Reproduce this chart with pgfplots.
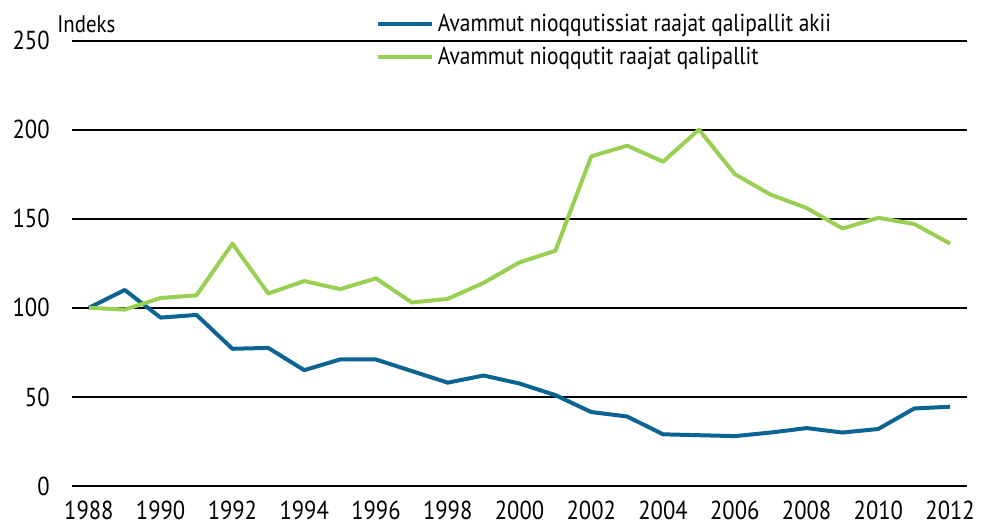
\documentclass[border=0pt]{standalone}
\usepackage{fontspec}
\setmainfont{PT Sans}[FakeStretch=0.87]
\usepackage{pgfplots}
\pgfplotsset{compat=1.18}
\definecolor{cblue}{RGB}{12,100,147}
\definecolor{cgreen}{RGB}{153,208,84}
\begin{document}
\fontsize{12bp}{14bp}\selectfont
\begin{tikzpicture}
\begin{axis}[
  scale only axis,
  width=447.5bp, height=222.75bp,
  xmin=1987.53, xmax=2012.47,
  ymin=0, ymax=250,
  xtick={1988,1990,...,2012},
  ytick={0,50,...,250},
  axis line style={draw=none},
  major tick length=0pt,
  ymajorgrids,
  grid style={black, line width=1bp},
  /pgf/number format/assume math mode=true,
  xticklabel style={/pgf/number format/1000 sep={}, yshift=-3.5bp},
  yticklabel style={xshift=-7bp},
  tick label style={font=\fontsize{13bp}{15bp}\selectfont},
  clip=false,
  legend cell align=left,
  legend style={at={(rel axis cs:0.339,1.07)}, anchor=north west, draw=none, fill=none,
    inner sep=0pt, row sep=2bp, font=\fontsize{12.3bp}{14.5bp}\selectfont},
  legend image code/.code={\draw[#1, line width=2bp] (0,0) -- (27bp,0);},
]
\addplot[cblue, line width=2bp, line join=round] coordinates {
(1988,100) (1989,110) (1990,94.5) (1991,96) (1992,77) (1993,77.5) (1994,65)
(1995,71) (1996,71) (1997,64.5) (1998,58) (1999,62) (2000,57.5) (2001,51)
(2002,41.5) (2003,39) (2004,29) (2005,28.5) (2006,28) (2007,30) (2008,32.5)
(2009,30) (2010,32) (2011,43.5) (2012,44.5)};
\addlegendentry{Avammut nioqqutissiat raajat qalipallit akii}
\addplot[cgreen, line width=2bp, line join=round] coordinates {
(1988,100) (1989,99) (1990,105.5) (1991,107) (1992,136) (1993,108) (1994,115)
(1995,110.5) (1996,116.5) (1997,103) (1998,105) (1999,114) (2000,125.5) (2001,132)
(2002,185) (2003,191) (2004,182) (2005,200) (2006,175) (2007,163.5) (2008,156)
(2009,144.5) (2010,150.5) (2011,147) (2012,136)};
\addlegendentry{Avammut nioqqutit raajat qalipallit}
\node[anchor=base west, inner sep=0pt] at ([xshift=-7.5bp, yshift=4.25bp]rel axis cs:0,1) {Indeks};
\coordinate (bl) at (rel axis cs:0,0);
\coordinate (tr) at (rel axis cs:1,1);
\end{axis}
\pgfresetboundingbox
\path[use as bounding box] ([xshift=-36bp,yshift=-20.5bp]bl) rectangle ([xshift=11bp,yshift=20.25bp]tr);
\end{tikzpicture}
\end{document}
